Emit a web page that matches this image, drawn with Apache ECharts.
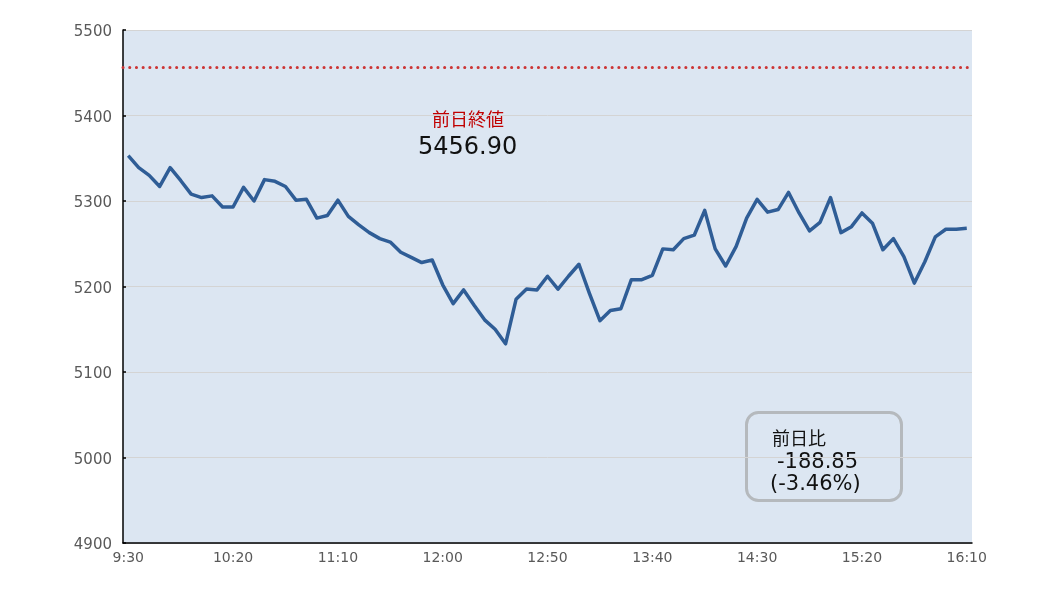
<!DOCTYPE html>
<html>
<head>
<meta charset="utf-8">
<script src="https://cdn.jsdelivr.net/npm/echarts@6/dist/echarts.min.js"></script>
<style>
html,body{margin:0;padding:0;background:#fff;}
#chart{width:1037px;height:598px;}
</style>
</head>
<body>
<div id="chart"></div>
<script>
const categories = [
'9:30','9:35','9:40','9:45','9:50','9:55','10:00','10:05','10:10','10:15',
'10:20','10:25','10:30','10:35','10:40','10:45','10:50','10:55','11:00','11:05',
'11:10','11:15','11:20','11:25','11:30','11:35','11:40','11:45','11:50','11:55',
'12:00','12:05','12:10','12:15','12:20','12:25','12:30','12:35','12:40','12:45',
'12:50','12:55','13:00','13:05','13:10','13:15','13:20','13:25','13:30','13:35',
'13:40','13:45','13:50','13:55','14:00','14:05','14:10','14:15','14:20','14:25',
'14:30','14:35','14:40','14:45','14:50','14:55','15:00','15:05','15:10','15:15',
'15:20','15:25','15:30','15:35','15:40','15:45','15:50','15:55','16:00','16:05',
'16:10'
];
const prices = [
5353,5339,5330,5317,5339,5324,5308,5304,5306,5293,
5293,5316,5300,5325,5323,5317,5301,5302,5280,5283,
5301,5282,5272,5263,5256,5252,5240,5234,5228,5231,
5202,5180,5196,5178,5161,5150,5133,5185,5197,5196,
5212,5197,5212,5226,5192,5160,5172,5174,5208,5208,
5213,5244,5243,5256,5260,5289,5244,5224,5247,5280,
5302,5287,5290,5310,5286,5265,5275,5304,5263,5270,
5286,5274,5243,5256,5235,5204,5229,5258,5267,5267,
5268.05
];
const prevClose = 5456.90;
const prevCloseLabel = '前日終値';
const prevCloseText = '5456.90';
const changeTitle = '前日比';
const changeValue = '-188.85';
const changePct = '(-3.46%)';
const yTicks = {min: 4900, max: 5500, interval: 100};

const cjk = '"Noto Sans CJK JP", sans-serif';
const num = '"DejaVu Sans", sans-serif';
const chart = echarts.init(document.getElementById('chart'), null, {renderer: 'canvas'});
chart.setOption({
  animation: false,
  grid: {left: 123, right: 65, top: 30, bottom: 55, show: true, backgroundColor: '#dce6f2', borderWidth: 0},
  xAxis: {
    type: 'category',
    data: categories,
    boundaryGap: true,
    axisLine: {lineStyle: {color: '#000', width: 1.5}},
    axisTick: {inside: true, length: 3, lineStyle: {color: '#000', width: 1.5},
      interval: function (i) { return i % 10 === 5 || i === 80; }},
    axisLabel: {interval: 9, color: '#595959', fontSize: 14, fontFamily: num, margin: 8},
    splitLine: {show: false}
  },
  yAxis: {
    type: 'value',
    min: yTicks.min, max: yTicks.max, interval: yTicks.interval,
    axisLine: {show: true, lineStyle: {color: '#000', width: 1.5}},
    axisTick: {show: true, inside: true, length: 3, lineStyle: {color: '#000', width: 1.5}},
    axisLabel: {color: '#595959', fontSize: 15, fontFamily: num, margin: 11,
      formatter: function (v) { return '{v|' + v + '}'; },
      rich: {v: {color: '#595959', fontSize: 15, fontFamily: num, padding: [5, 0, 0, 0]}}},
    splitLine: {show: true, lineStyle: {color: '#d4d4d4', width: 1}}
  },
  series: [{
    type: 'line',
    data: prices,
    symbol: 'none',
    lineStyle: {color: '#2f5d96', width: 3.5, join: 'round'},
    markLine: {
      silent: true, symbol: 'none', label: {show: false},
      lineStyle: {color: '#cc3535', width: 3, type: [0.1, 6.6], cap: 'round'},
      data: [{yAxis: prevClose}]
    }
  }],
  graphic: [
    {type: 'text', left: 432, top: 110, style: {text: prevCloseLabel, fill: '#c00000', font: '18px ' + cjk}},
    {type: 'text', left: 418, top: 136, style: {text: prevCloseText, fill: '#111', font: '24px ' + num}},
    {type: 'rect', left: 745, top: 411, shape: {width: 155, height: 88, r: 12},
      style: {fill: 'rgba(0,0,0,0)', stroke: '#b5b9bd', lineWidth: 3}},
    {type: 'text', left: 772, top: 429, style: {text: changeTitle, fill: '#111', font: '18px ' + cjk}},
    {type: 'text', left: 777, top: 452, style: {text: changeValue, fill: '#111', font: '21px ' + num}},
    {type: 'text', left: 770, top: 474, style: {text: changePct, fill: '#111', font: '21px ' + num}}
  ]
});
</script>
</body>
</html>
